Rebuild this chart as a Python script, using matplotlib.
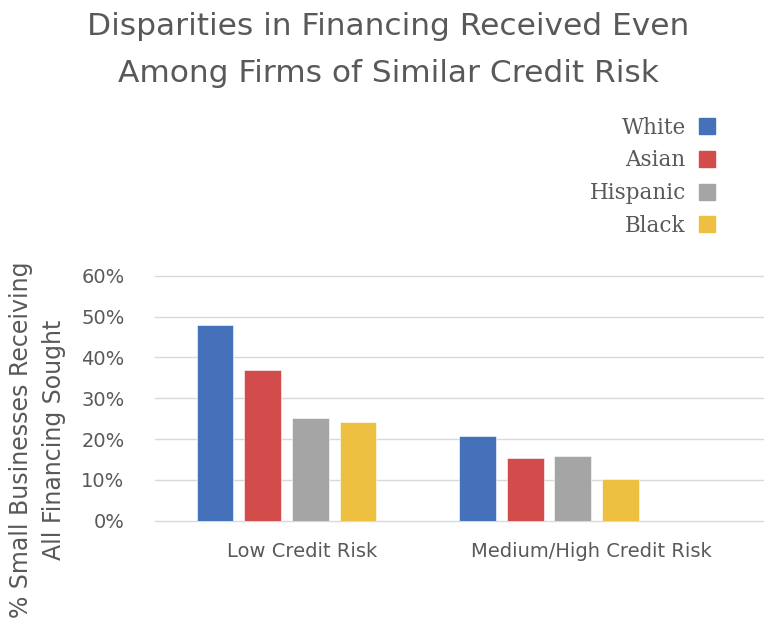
#!/usr/bin/env python3
"""Disparities in financing received, by race and credit risk group."""

import matplotlib.pyplot as plt
from matplotlib.lines import Line2D
from matplotlib.ticker import FuncFormatter

categories = ["Low Credit Risk", "Medium/High Credit Risk"]
races = ["White", "Asian", "Hispanic", "Black"]
colors = ["#4571BA", "#D34C4C", "#A5A5A5", "#EDC042"]
values = {
    "White": [48.0, 20.8],
    "Asian": [36.9, 15.3],
    "Hispanic": [25.2, 15.8],
    "Black": [24.1, 10.2],
}
y_ticks = [0, 10, 20, 30, 40, 50, 60]

TEXT = "#595959"
SANS = "DejaVu Sans"
SERIF = "DejaVu Serif"


def main() -> int:
    fig = plt.figure(figsize=(7.64, 6.23), dpi=100)
    ax = fig.add_axes([0.2029, 0.1642, 0.7971, 0.3933])

    group_x = [0.0, 1.0]
    step = 0.1817
    width = 0.14
    for i, race in enumerate(races):
        offs = (i - 1.5) * step
        ax.bar([g + offs for g in group_x], values[race], width=width,
               color=colors[i], edgecolor="white", linewidth=0.4, zorder=3)

    ax.set_xlim(-0.501, 1.819)
    ax.set_ylim(0, 60)
    ax.set_yticks(y_ticks)
    ax.yaxis.set_major_formatter(FuncFormatter(lambda v, _: f"{v:.0f}%"))
    ax.grid(axis="y", color="#D9D9D9", linewidth=1.0, zorder=0)
    ax.set_axisbelow(True)
    for gl in ax.get_ygridlines():
        gl.set_clip_on(False)
    for s in ax.spines.values():
        s.set_visible(False)
    ax.tick_params(axis="y", length=0, pad=22, labelsize=14, labelcolor=TEXT)
    ax.tick_params(axis="x", length=0, pad=15, labelsize=14, labelcolor=TEXT)
    ax.set_xticks([0.058, 1.163])
    ax.set_xticklabels(categories)
    for lab in ax.get_xticklabels() + ax.get_yticklabels():
        lab.set_family(SANS)

    fig.text(0.508, 0.958, "Disparities in Financing Received Even",
             ha="center", va="center", fontsize=22.5, color=TEXT, family=SANS)
    fig.text(0.508, 0.882, "Among Firms of Similar Credit Risk",
             ha="center", va="center", fontsize=22.5, color=TEXT, family=SANS)

    fig.text(0.049, 0.294, "% Small Businesses Receiving\nAll Financing Sought",
             rotation=90, ha="center", va="center", multialignment="center",
             fontsize=17, color=TEXT, family=SANS, linespacing=1.45)

    handles = [Line2D([], [], marker="s", linestyle="none", markersize=12,
                      markerfacecolor=c, markeredgecolor=c) for c in colors]
    leg = fig.legend(handles, races, loc="upper right",
                     bbox_to_anchor=(0.951, 0.83), frameon=False,
                     markerfirst=False, handletextpad=0.6, labelspacing=0.5,
                     prop={"family": SERIF, "size": 15.5}, borderpad=0,
                     handlelength=0.8)
    for t in leg.get_texts():
        t.set_color(TEXT)

    fig.savefig("out.png", dpi=100)
    return 0


if __name__ == "__main__":
    raise SystemExit(main())
